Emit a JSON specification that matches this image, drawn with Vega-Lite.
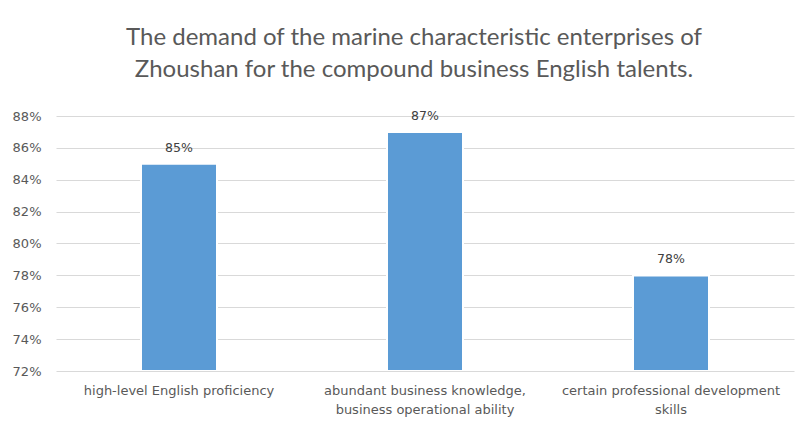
{
  "$schema": "https://vega.github.io/schema/vega-lite/v6.json",
  "autosize": "none",
  "width": 738,
  "height": 255,
  "padding": {"left": 56, "top": 116, "right": 9, "bottom": 64},
  "background": "white",
  "config": {
    "view": {"stroke": null},
    "font": "Lato"
  },
  "title": {
    "text": ["The demand of the marine characteristic enterprises of", "Zhoushan for the compound business English talents."],
    "font": "Lato",
    "fontSize": 24,
    "fontWeight": "normal",
    "color": "#595959",
    "lineHeight": 32,
    "anchor": "middle",
    "dx": -11,
    "offset": 28
  },
  "data": {
    "values": [
      {"category": "high-level English proficiency", "value": 0.85},
      {"category": "abundant business knowledge, business operational ability", "value": 0.87},
      {"category": "certain professional development skills", "value": 0.78}
    ]
  },
  "encoding": {
    "x": {
      "field": "category",
      "type": "nominal",
      "sort": null,
      "scale": {"paddingInner": 0.691, "paddingOuter": 0.3455},
      "axis": {
        "title": null,
        "labelAngle": 0,
        "domain": false,
        "ticks": false,
        "labelFont": "DejaVu Sans",
        "labelFontSize": 13,
        "labelColor": "#595959",
        "labelPadding": 13,
        "labelLineHeight": 19,
        "labelLimit": 300,
        "labelExpr": "datum.label == 'abundant business knowledge, business operational ability' ? ['abundant business knowledge,', 'business operational ability'] : datum.label == 'certain professional development skills' ? ['certain professional development', 'skills'] : datum.label"
      }
    },
    "y": {
      "field": "value",
      "type": "quantitative",
      "scale": {"domain": [0.72, 0.88], "nice": false, "zero": false},
      "axis": {
        "title": null,
        "format": ".0%",
        "values": [0.72, 0.74, 0.76, 0.78, 0.80, 0.82, 0.84, 0.86, 0.88],
        "domain": false,
        "ticks": false,
        "labelFont": "DejaVu Sans",
        "labelFontSize": 13,
        "labelColor": "#595959",
        "labelPadding": 15,
        "gridColor": "#d9d9d9",
        "gridWidth": 1
      }
    }
  },
  "layer": [
    {
      "mark": {"type": "bar", "color": "#5b9bd5", "stroke": "#ffffff", "strokeWidth": 2, "clip": true},
      "encoding": {"y2": {"datum": 0.72}}
    },
    {
      "mark": {"type": "text", "dy": -16, "fontSize": 12.5, "color": "#404040", "font": "DejaVu Sans"},
      "encoding": {"text": {"field": "value", "type": "quantitative", "format": ".0%"}}
    }
  ]
}
